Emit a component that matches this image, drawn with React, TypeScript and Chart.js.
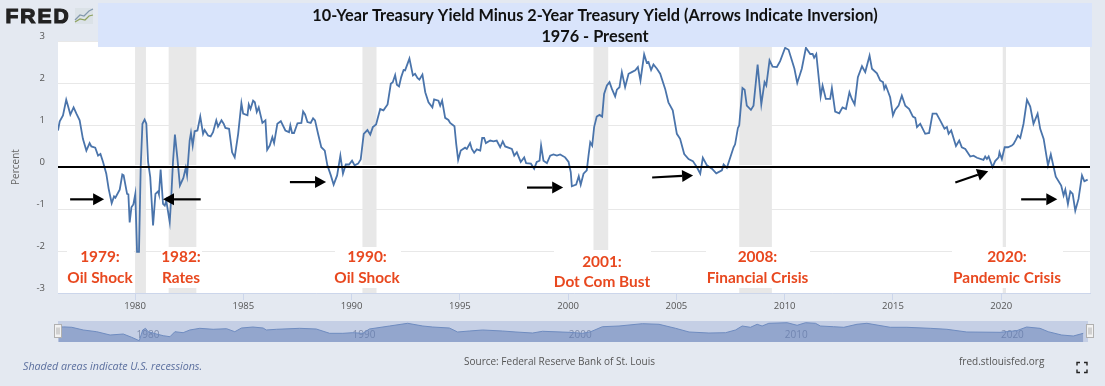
import React, { useEffect, useRef } from "react";
import { Chart, registerables } from "chart.js";

Chart.register(...registerables);

const titleLines = ["10-Year Treasury Yield Minus 2-Year Treasury Yield (Arrows Indicate Inversion)", "1976 - Present"];

const years = [
  1976.44,1976.52,1976.67,1976.82,1976.9,1977.01,1977.16,1977.29,1977.44,1977.59,1977.75,1977.9,1977.98,1978.16,1978.29,1978.4,1978.52,1978.67,1978.78,1978.92,
  1979.03,1979.09,1979.29,1979.41,1979.47,1979.63,1979.69,1979.75,1979.83,1979.92,1980.01,1980.09,1980.18,1980.26,1980.34,1980.44,1980.52,1980.6,1980.7,1980.83,
  1980.94,1981.06,1981.1,1981.18,1981.29,1981.37,1981.44,1981.6,1981.67,1981.75,1981.84,1981.95,1982.07,1982.23,1982.34,1982.4,1982.52,1982.58,1982.66,1982.75,
  1982.88,1983.01,1983.14,1983.21,1983.37,1983.49,1983.6,1983.75,1983.83,1983.99,1984.09,1984.17,1984.34,1984.48,1984.6,1984.76,1984.91,1984.99,1985.19,1985.25,
  1985.33,1985.45,1985.53,1985.62,1985.71,1985.88,1986.02,1986.1,1986.22,1986.34,1986.42,1986.57,1986.73,1986.94,1987.11,1987.17,1987.25,1987.34,1987.5,1987.68,
  1987.76,1987.85,1987.96,1988.11,1988.22,1988.31,1988.45,1988.6,1988.76,1988.88,1989.04,1989.17,1989.33,1989.48,1989.6,1989.73,1989.88,1990.02,1990.14,1990.3,
  1990.42,1990.56,1990.73,1990.86,1990.98,1991.13,1991.32,1991.47,1991.66,1991.81,1991.9,1992.01,1992.09,1992.19,1992.29,1992.4,1992.47,1992.67,1992.83,1992.93,
  1993.04,1993.13,1993.27,1993.4,1993.55,1993.73,1993.81,1994.01,1994.09,1994.18,1994.32,1994.47,1994.55,1994.75,1994.83,1994.92,1995.04,1995.24,1995.32,1995.47,
  1995.55,1995.66,1995.78,1995.94,1996.03,1996.12,1996.2,1996.4,1996.55,1996.7,1996.86,1996.98,1997.09,1997.4,1997.51,1997.63,1997.81,1997.97,1998.06,1998.28,
  1998.43,1998.55,1998.68,1998.75,1998.86,1999.02,1999.17,1999.32,1999.48,1999.63,1999.86,2000.02,2000.12,2000.17,2000.37,2000.49,2000.58,2000.71,2000.86,2000.94,
  2001.02,2001.11,2001.2,2001.32,2001.45,2001.57,2001.66,2001.79,2001.91,2002.02,2002.17,2002.25,2002.37,2002.48,2002.63,2002.79,2002.94,2003.1,2003.22,2003.34,
  2003.51,2003.63,2003.71,2003.83,2003.94,2004.1,2004.25,2004.48,2004.63,2004.83,2005.02,2005.17,2005.36,2005.56,2005.76,2005.94,2006.1,2006.22,2006.41,2006.64,
  2006.84,2007.1,2007.18,2007.33,2007.49,2007.64,2007.71,2007.84,2007.9,2008.05,2008.15,2008.25,2008.44,2008.56,2008.75,2008.92,2009.07,2009.15,2009.3,2009.44,
  2009.64,2009.79,2010.02,2010.18,2010.33,2010.45,2010.58,2010.79,2010.98,2011.18,2011.29,2011.36,2011.46,2011.66,2011.75,2011.9,2012.1,2012.18,2012.33,2012.52,
  2012.67,2012.83,2012.99,2013.1,2013.23,2013.38,2013.57,2013.72,2013.92,2014.03,2014.26,2014.41,2014.54,2014.6,2014.67,2014.87,2015.0,2015.1,2015.26,2015.41,
  2015.57,2015.75,2015.92,2016.03,2016.11,2016.26,2016.49,2016.67,2016.83,2017.01,2017.18,2017.38,2017.49,2017.57,2017.69,2017.91,2018.06,2018.18,2018.34,2018.57,
  2018.72,2018.88,2019.18,2019.26,2019.34,2019.42,2019.6,2019.72,2019.88,2019.92,2020.03,2020.16,2020.31,2020.49,2020.57,2020.68,2020.77,2020.88,2021.03,2021.19,
  2021.34,2021.49,2021.68,2021.8,2021.96,2022.16,2022.29,2022.42,2022.52,2022.77,2022.88,2022.96,2023.08,2023.19,2023.3,2023.42,2023.57,2023.73,2023.84,2023.99,
];

const spread = [
  0.87,1.09,1.23,1.6,1.46,1.25,1.42,1.27,1.11,0.67,0.39,0.57,0.49,0.46,0.27,0.31,0.12,-0.16,-0.52,-0.86,
  -0.7,-0.73,-0.54,-0.18,-0.2,-0.64,-0.65,-1.32,-0.96,-0.89,-0.64,-2.02,-2.02,0,1.03,1.13,1.03,0.12,-0.24,-1.39,
  -0.64,-0.58,-0.65,-0.06,-0.88,-0.92,-0.8,-1.31,-0.72,0.12,0.77,0.23,-0.44,-0.26,-0.02,-0.2,0.63,0.81,0.51,0.85,
  0.87,1.2,0.79,0.88,0.75,0.73,0.83,1.11,0.96,1.11,1.03,0.93,0.91,0.35,0.23,0.79,1.52,1.27,1.23,1.49,
  1.38,1.58,1.54,1.31,1.42,1.05,1.11,0.41,0.51,0.71,0.57,1.03,1.09,0.87,0.83,0.99,0.81,0.81,1.04,1.05,
  1.32,1.25,1.07,1.05,1.16,1.11,0.79,0.47,0.39,0.04,-0.2,-0.42,-0.2,0.27,-0.16,0.06,0.06,0.15,0.04,0.08,
  0.18,0.79,0.88,0.77,0.95,1.01,1.38,1.35,1.49,1.98,2.02,2.19,1.96,1.92,2.14,2.31,2.3,2.58,2.18,2.22,
  2.12,2.08,2.2,1.78,1.54,1.42,1.61,1.58,1.46,1.58,1.17,1.12,1.05,0.97,0.55,0.17,0.39,0.46,0.43,0.57,
  0.43,0.34,0.42,0.39,0.69,0.69,0.57,0.63,0.61,0.63,0.47,0.61,0.49,0.43,0.27,0.35,0.12,0.23,0.09,0.08,
  -0.04,0.12,0.15,0.51,0.15,0.09,0.27,0.3,0.27,0.3,0.23,0.12,-0.12,-0.46,-0.42,-0.22,-0.42,-0.16,-0.08,0.27,
  0.59,0.51,0.95,1.2,1.24,1.2,1.74,1.94,2.02,1.86,1.68,1.84,1.9,2.26,1.9,2.22,2.26,2.3,2.38,2.06,
  2.68,2.48,2.5,2.31,2.44,2.34,2.22,1.86,1.54,1.35,0.79,0.67,0.31,0.19,0.14,0,-0.16,0.22,0.04,-0.04,
  -0.15,-0.08,0.06,-0.02,0.23,0.47,0.54,0.93,0.99,1.88,1.84,1.46,1.36,1.46,2.44,1.49,2.02,1.94,2.54,2.39,
  2.38,2.52,2.84,2.79,2.54,2.34,2,2.34,2.84,2.69,2.69,2.6,2.69,1.68,1.94,1.62,1.62,1.88,1.32,1.28,
  1.42,1.38,1.78,1.62,1.49,2.14,2.4,2.26,2.65,2.34,2.23,2.06,2.02,1.86,1.94,1.66,1.23,1.36,1.46,1.7,
  1.46,1.38,1.2,1.17,0.95,1.03,0.79,0.81,1.27,1.27,1.11,0.91,0.95,0.79,0.87,0.5,0.63,0.47,0.43,0.25,
  0.27,0.22,0.17,0.25,0.19,0.25,0,0.14,0.23,0.35,0.19,0.47,0.47,0.51,0.55,0.65,0.75,0.69,1.03,1.6,
  1.44,1.03,1.27,0.91,0.67,0.04,0.3,0,-0.23,-0.44,-0.68,-0.54,-0.88,-0.58,-0.64,-1.04,-0.76,-0.2,-0.34,-0.3,
];

// The overview strip under the chart is much coarser than the main line.
const navYears = [
  1976.46,1976.69,1977.08,1977.61,1978.23,1978.85,1979.46,1979.85,1980.2,1980.36,1980.49,1980.61,1981.0,1981.31,1981.62,1981.85,1982.23,1982.54,1983.0,1983.62,
  1984.24,1984.62,1984.93,1985.46,1985.93,1986.08,1986.55,1987.62,1988.39,1989.01,1989.62,1990.08,1990.55,1990.85,1991.78,1992.62,1993.32,1993.78,1994.55,1994.93,
  1995.47,1996.09,1997.01,1997.63,1998.4,1998.86,2000.09,2000.71,2001.09,2001.63,2002.4,2003.48,2004.25,2005.02,2005.64,2006.56,2007.33,2007.79,2008.1,2008.48,
  2008.79,2009.02,2009.33,2010.18,2010.64,2011.03,2011.49,2011.72,2012.33,2012.8,2013.41,2013.87,2014.95,2015.72,2016.8,2017.57,2018.49,2020.03,2020.8,2021.26,
  2021.88,2022.26,2022.88,2023.42,2023.88,
];
const navValues = [
  1.63,1.75,1.63,0.86,0.37,-0.57,-0.29,-1.23,-2.2,0.86,1.34,0.37,-0.29,-0.77,-1.06,0.37,0.09,0.86,1.34,1.06,
  1.23,0.37,1.43,1.71,1.43,0.86,1.06,1.34,1.14,-0.09,-0.09,0.09,-0.09,1.14,2.0,2.77,2.0,1.71,1.43,0.29,
  0.57,0.86,0.57,0.29,0,0.49,0.2,-0.09,0.37,1.8,2.0,2.66,2.49,1.34,0.29,0,0.09,0.86,2.0,1.63,
  2.49,2.0,2.77,2.94,2.2,2.94,2.77,2.0,1.8,1.63,2.49,2.77,1.63,1.63,1.34,1.06,0.29,0.2,0.66,1.71,
  1.34,0.37,-0.57,-0.86,-0.09,
];

const yTicks = [-3, -2, -1, 0, 1, 2, 3];
const recessionStarts = [1980.0, 1981.55, 1990.5, 2001.17, 2007.9, 2020.07];
const recessionEnds = [1980.5, 1982.83, 1991.15, 2001.85, 2009.41, 2020.22];

const labelYears = ["1979:", "1982:", "1990:", "2001:", "2008:", "2020:"];
const labelNames = ["Oil Shock", "Rates", "Oil Shock", "Dot Com Bust", "Financial Crisis", "Pandemic Crisis"];
const labelCenters = [100, 181, 367, 602, 757.5, 1007];
const labelLine1 = [257.5, 257.5, 257.5, 262, 257.5, 257.5];
const labelBoxes = [
  [67, 134, 247, 293], [161, 202, 247, 288], [335, 401, 247, 288],
  [554, 651, 250, 293], [706, 810, 247, 288], [952, 1063, 247, 288],
];

const arrowX0 = [1977.0, 1983.03, 1987.15, 1998.1, 2003.88, 2017.88, 2020.92];
const arrowX1 = [1978.57, 1981.29, 1988.82, 1999.77, 2005.77, 2019.4, 2022.59];
const arrowY0 = [-0.77, -0.77, -0.36, -0.49, -0.25, -0.37, -0.77];
const arrowY1 = [-0.77, -0.77, -0.36, -0.49, -0.2, -0.1, -0.77];

const X_MIN = 1976.44;
const X_MAX = 2024.1;
const PAGE_BG = "#e4e9f1";

const line = years.map((x, i) => ({ x, y: spread[i] }));
const navLine = navYears.map((x, i) => ({ x, y: navValues[i] }));

function drawArrow(ctx: CanvasRenderingContext2D, x0: number, y0: number, x1: number, y1: number) {
  const a = Math.atan2(y1 - y0, x1 - x0);
  const headL = 11;
  const headW = 6;
  const bx = x1 - headL * Math.cos(a);
  const by = y1 - headL * Math.sin(a);
  ctx.strokeStyle = "#000";
  ctx.lineWidth = 2.2;
  ctx.beginPath();
  ctx.moveTo(x0, y0);
  ctx.lineTo(bx, by);
  ctx.stroke();
  ctx.fillStyle = "#000";
  ctx.beginPath();
  ctx.moveTo(x1, y1);
  ctx.lineTo(bx - headW * Math.sin(a), by + headW * Math.cos(a));
  ctx.lineTo(bx + headW * Math.sin(a), by - headW * Math.cos(a));
  ctx.closePath();
  ctx.fill();
}

const mainDecor = {
  id: "mainDecor",
  beforeDraw(chart: any) {
    const { ctx, chartArea: a } = chart;
    ctx.save();
    ctx.fillStyle = PAGE_BG;
    ctx.fillRect(0, 0, chart.width, chart.height);
    ctx.fillStyle = "#fff";
    ctx.fillRect(a.left, a.top, a.right - a.left, a.bottom - a.top);
    ctx.restore();
  },
  beforeDatasetsDraw(chart: any) {
    const { ctx, chartArea: a, scales } = chart;
    ctx.save();
    ctx.fillStyle = "#e8e8e8";
    recessionStarts.forEach((s, i) => {
      const l = scales.x.getPixelForValue(s);
      const r = scales.x.getPixelForValue(recessionEnds[i]);
      ctx.fillRect(l, a.top, r - l, a.bottom - a.top);
    });
    ctx.fillStyle = "#fff";
    labelBoxes.forEach(([l, r, t, b]) => ctx.fillRect(l, t, r - l, b - t));
    const z = scales.y.getPixelForValue(0);
    ctx.fillRect(a.left, z - 2, a.right - a.left, 4);
    ctx.restore();
  },
  afterDraw(chart: any) {
    const { ctx, scales } = chart;
    ctx.save();
    // title band
    ctx.fillStyle = "#d9e4fb";
    ctx.fillRect(98, 3, 994, 44);
    ctx.fillStyle = "#111";
    ctx.textAlign = "center";
    ctx.textBaseline = "middle";
    ctx.font = "bold 16.3px Lato";
    ctx.fillText(titleLines[0], 595, 15.5);
    ctx.fillText(titleLines[1], 595, 36.5);
    // callouts
    ctx.fillStyle = "#e8481f";
    ctx.font = "bold 15.4px Lato";
    labelYears.forEach((t, i) => {
      ctx.fillText(t, labelCenters[i], labelLine1[i]);
      ctx.fillText(labelNames[i], labelCenters[i], labelLine1[i] + 20.5);
    });
    // arrows
    arrowX0.forEach((x0, i) => {
      drawArrow(
        ctx,
        scales.x.getPixelForValue(x0),
        scales.y.getPixelForValue(arrowY0[i]),
        scales.x.getPixelForValue(arrowX1[i]),
        scales.y.getPixelForValue(arrowY1[i])
      );
    });
    // logo
    ctx.textAlign = "left";
    ctx.fillStyle = "#222";
    ctx.strokeStyle = "#222";
    ctx.lineWidth = 1.2;
    ctx.font = "900 21px 'Liberation Sans'";
    (ctx as any).letterSpacing = "2px";
    ctx.fillText("FRED", 5.5, 17);
    ctx.strokeText("FRED", 5.5, 17);
    (ctx as any).letterSpacing = "0px";
    ctx.fillStyle = "#dbe2e7";
    ctx.fillRect(75, 8, 18, 16);
    ctx.lineWidth = 1.2;
    ctx.strokeStyle = "#8298ad";
    ctx.beginPath();
    ctx.moveTo(75, 20); ctx.lineTo(80, 15); ctx.lineTo(84, 16); ctx.lineTo(89, 11); ctx.lineTo(93, 9);
    ctx.stroke();
    ctx.strokeStyle = "#8fa25f";
    ctx.beginPath();
    ctx.moveTo(75, 22); ctx.lineTo(80, 19); ctx.lineTo(85, 20); ctx.lineTo(89, 16); ctx.lineTo(93, 15);
    ctx.stroke();
    // footer
    ctx.font = "italic 10.7px 'Open Sans'";
    ctx.fillStyle = "#5b6f9e";
    ctx.fillText("Shaded areas indicate U.S. recessions.", 23, 366.5);
    ctx.font = "10px 'Open Sans'";
    ctx.fillStyle = "#555";
    ctx.fillText("Source: Federal Reserve Bank of St. Louis", 464, 362.5);
    ctx.fillText("fred.stlouisfed.org", 959, 362.5);
    // fullscreen icon
    ctx.strokeStyle = "#222";
    ctx.lineWidth = 1.4;
    const ix0 = 1077, ix1 = 1087, iy0 = 362.5, iy1 = 372.5, c = 3;
    ctx.beginPath();
    ctx.moveTo(ix0, iy0 + c); ctx.lineTo(ix0, iy0); ctx.lineTo(ix0 + c, iy0);
    ctx.moveTo(ix1 - c, iy0); ctx.lineTo(ix1, iy0); ctx.lineTo(ix1, iy0 + c);
    ctx.moveTo(ix0, iy1 - c); ctx.lineTo(ix0, iy1); ctx.lineTo(ix0 + c, iy1);
    ctx.moveTo(ix1 - c, iy1); ctx.lineTo(ix1, iy1); ctx.lineTo(ix1, iy1 - c);
    ctx.stroke();
    ctx.restore();
  },
};

const navDecor = {
  id: "navDecor",
  beforeDraw(chart: any) {
    const { ctx, chartArea: a } = chart;
    ctx.save();
    ctx.fillStyle = "#c5cfe5";
    ctx.fillRect(a.left, a.top, a.right - a.left, a.bottom - a.top);
    ctx.restore();
  },
  afterDraw(chart: any) {
    const { ctx, chartArea: a } = chart;
    ctx.save();
    [a.left, a.right + 2].forEach((x) => {
      ctx.fillStyle = "#f2f2f2";
      ctx.strokeStyle = "#b0b0b0";
      ctx.lineWidth = 1;
      ctx.fillRect(x - 3.5, a.top + 3.5, 7, 13);
      ctx.strokeRect(x - 3.5, a.top + 3.5, 7, 13);
      ctx.beginPath();
      ctx.moveTo(x - 1, a.top + 6.5); ctx.lineTo(x - 1, a.top + 13.5);
      ctx.moveTo(x + 1, a.top + 6.5); ctx.lineTo(x + 1, a.top + 13.5);
      ctx.stroke();
    });
    ctx.restore();
  },
};

export default function App() {
  const mainRef = useRef<HTMLCanvasElement>(null);
  const navRef = useRef<HTMLCanvasElement>(null);

  useEffect(() => {
    document.body.style.margin = "0";
    const main = new Chart(mainRef.current!, {
      type: "line",
      data: {
        datasets: [
          { label: "10Y minus 2Y", data: line, borderColor: "#4a74ab", borderWidth: 1.8, pointRadius: 0, tension: 0, order: 2 },
          {
            label: "Zero",
            data: [{ x: X_MIN, y: 0 }, { x: X_MAX, y: 0 }],
            borderColor: "#000",
            borderWidth: 2,
            pointRadius: 0,
            order: 1,
          },
        ],
      },
      options: {
        animation: false,
        responsive: false,
        devicePixelRatio: 1,
        layout: { padding: { top: 41, right: 15, bottom: 73, left: 0 } },
        plugins: { legend: { display: false }, tooltip: { enabled: false } },
        scales: {
          x: {
            type: "linear",
            min: X_MIN,
            max: X_MAX,
            afterFit: (s: any) => { s.height = 20; },
            grid: { drawOnChartArea: false, drawTicks: true, tickLength: 7, color: "#ccd6eb" },
            border: { color: "#ccd6eb" },
            ticks: {
              stepSize: 5,
              includeBounds: false,
              autoSkip: false,
              maxRotation: 0,
              padding: 1,
              color: "#555",
              font: { family: "'Open Sans'", size: 9.5 },
              callback: (v: any) => String(v),
            },
          },
          y: {
            min: -3,
            max: 3,
            afterFit: (s: any) => { s.width = 58; },
            afterBuildTicks: (s: any) => { s.ticks = yTicks.map((value) => ({ value })); },
            grid: { color: "#e8e8e8", drawTicks: false },
            border: { display: false },
            title: { display: true, text: "Percent", color: "#666", font: { family: "'Open Sans'", size: 10 }, padding: { top: 10, bottom: 0 } },
            ticks: { padding: 13, labelOffset: -5, color: "#555", font: { family: "'Open Sans'", size: 9.5 } },
          },
        },
      },
      plugins: [mainDecor],
    } as any);

    const nav = new Chart(navRef.current!, {
      type: "line",
      data: {
        datasets: [
          {
            label: "Navigator",
            data: navLine,
            borderColor: "#6f8cc0",
            backgroundColor: "rgba(97,125,181,0.5)",
            borderWidth: 1,
            pointRadius: 0,
            fill: "start",
            tension: 0,
          },
        ],
      },
      options: {
        animation: false,
        responsive: false,
        devicePixelRatio: 1,
        layout: { padding: { top: 6, right: 17, bottom: 0, left: 58 } },
        plugins: { legend: { display: false }, tooltip: { enabled: false } },
        scales: {
          x: {
            type: "linear",
            min: X_MIN,
            max: X_MAX,
            afterFit: (s: any) => { s.height = 0; },
            grid: { drawOnChartArea: false, drawTicks: false },
            border: { display: false },
            ticks: {
              stepSize: 10,
              includeBounds: false,
              autoSkip: false,
              maxRotation: 0,
              mirror: true,
              padding: 1,
              labelOffset: 13,
              color: "#7f8cab",
              font: { family: "'Open Sans'", size: 10 },
              callback: (v: any) => String(v),
            },
          },
          y: { display: false, min: -2.57, max: 3.43 },
        },
      },
      plugins: [navDecor],
    } as any);

    return () => {
      main.destroy();
      nav.destroy();
    };
  }, []);

  return (
    <div style={{ position: "absolute", left: 0, top: 0, width: 1105, height: 386, overflow: "hidden", background: PAGE_BG }}>
      <canvas ref={mainRef} width={1105} height={386} style={{ position: "absolute", left: 0, top: 0, display: "block" }} />
      <canvas ref={navRef} width={1105} height={27} style={{ position: "absolute", left: 0, top: 315, display: "block" }} />
    </div>
  );
}
